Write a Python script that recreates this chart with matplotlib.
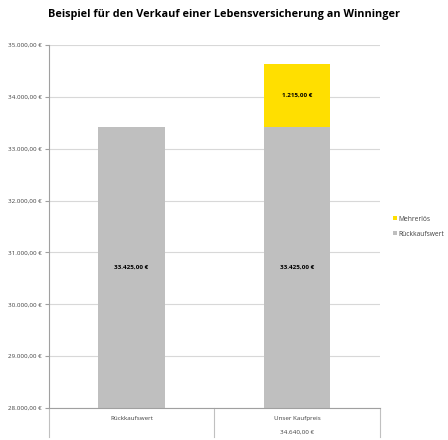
import matplotlib.pyplot as plt
import numpy as np

kategorien = ["Rückkaufswert", "Unser Kaufpreis"]
rueckkaufswert = [33425.00, 33425.00]
mehrerloes = [0, 1215.00]
summen = ["", "34.640,00 €"]
y_ticks = [28000, 29000, 30000, 31000, 32000, 33000, 34000, 35000]


def euro(v):
    s = f"{v:,.2f}"
    s = s.replace(",", "X").replace(".", ",").replace("X", ".")
    return s + " €"


plt.rcParams['font.family'] = ['Open Sans', 'DejaVu Sans']

fig = plt.figure(figsize=(4.48, 4.4), dpi=100)
ax = fig.add_axes([0.109, 0.0727, 0.739, 0.825])

x = np.arange(len(kategorien))
grau = "#BFBFBF"
gelb = "#FFDF00"
b1 = ax.bar(x, np.array(rueckkaufswert) - 28000, bottom=28000, width=0.4,
            color=grau, label="Rückkaufswert", zorder=2)
b2 = ax.bar(x[1:], mehrerloes[1:], bottom=rueckkaufswert[1], width=0.4,
            color=gelb, label="Mehrerlös", zorder=2)

# werte in die balken
for i in x:
    ax.text(i, (28000 + rueckkaufswert[i]) / 2, euro(rueckkaufswert[i]),
            ha="center", va="center", fontsize=4.5, fontweight="bold")
ax.text(1, rueckkaufswert[1] + mehrerloes[1] / 2, euro(mehrerloes[1]),
        ha="center", va="center", fontsize=4.5, fontweight="bold")

ax.set_xlim(-0.5, 1.5)
ax.set_ylim(28000, 35000)
ax.set_yticks(y_ticks)
ax.set_yticklabels([euro(v) for v in y_ticks], fontsize=4.5, color="#404040")
ax.yaxis.grid(True, color="#D8D8D8", linewidth=0.8, zorder=0)
ax.tick_params(axis="y", length=3, color="#A0A0A0", pad=2)
ax.tick_params(axis="x", length=0)
ax.set_xticks([])
for s in ["top", "right"]:
    ax.spines[s].set_visible(False)
ax.spines["left"].set_color("#A0A0A0")
ax.spines["bottom"].set_color("#A0A0A0")

# tabelle unter der achse
for xs in [-0.5, 0.5, 1.5]:
    ax.plot([xs, xs], [28000, 27450], color="#C0C0C0", linewidth=0.8,
            clip_on=False)
for i in x:
    ax.text(i, 27800, kategorien[i], ha="center", va="center", fontsize=4.5,
            color="#404040")
    ax.text(i, 27530, summen[i], ha="center", va="center", fontsize=4.5,
            color="#404040")

handles = [b2, b1]
ax.legend(handles, ["Mehrerlös", "Rückkaufswert"], loc="center left",
          bbox_to_anchor=(1.02, 0.5), frameon=False, fontsize=4.8,
          handlelength=0.6, handleheight=0.6, handletextpad=0.3,
          labelspacing=1.2, labelcolor="#404040")

fig.text(0.5, 0.968,
         "Beispiel für den Verkauf einer Lebensversicherung an Winninger",
         ha="center", va="center", fontsize=7.8, fontweight="bold")

fig.savefig("out.png", dpi=100, facecolor="white")
